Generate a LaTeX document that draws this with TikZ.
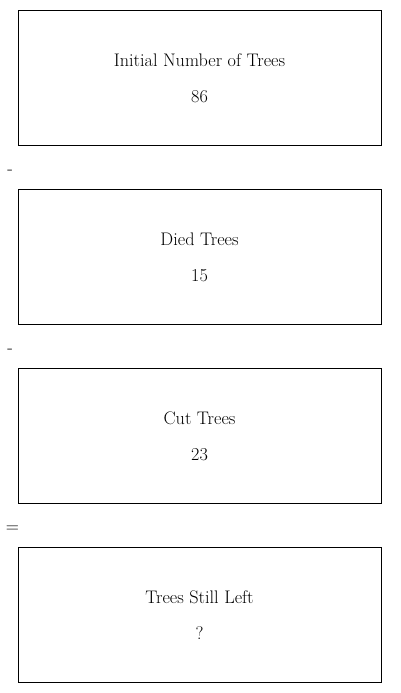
\documentclass[tikz,border=0pt]{standalone}
\usetikzlibrary{calc,positioning}

\begin{document}
\begin{tikzpicture}[
  x=1pt,y=1pt,
  every node/.style={font=\fontsize{18.2}{22}\selectfont},
  box/.style={rectangle,draw=black,line width=.9pt,minimum width=363pt,minimum height=135pt,inner sep=0pt},
  boxtext/.style={anchor=base,inner sep=0pt},
  ]

  \useasboundingbox (0,0) rectangle (400,-693);

  \foreach \title/\value [count=\b from 0] in {Initial Number of Trees/86,Died Trees/15,Cut Trees/23,Trees Still Left/?}
  {
    \node (box_\b) [box] at ($(199.5,-77.5)+(0,-179*\b)$) {};
    \node (title_\b) [boxtext] at ($(box_\b.north)+(0,-56.7)$) {\title};
    \node (value_\b) [boxtext] at ($(box_\b.north)+(0,-93.3)$) {\value};
  }

  % operators between the boxes
  \foreach \op/\dx [count=\b from 0] in {-/10,-/10,=/12.5}
  {
    \node (op_\b) [boxtext] at ($(\dx,-174)+(0,-179*\b)$) {\op};
  }

\end{tikzpicture}
\end{document}
